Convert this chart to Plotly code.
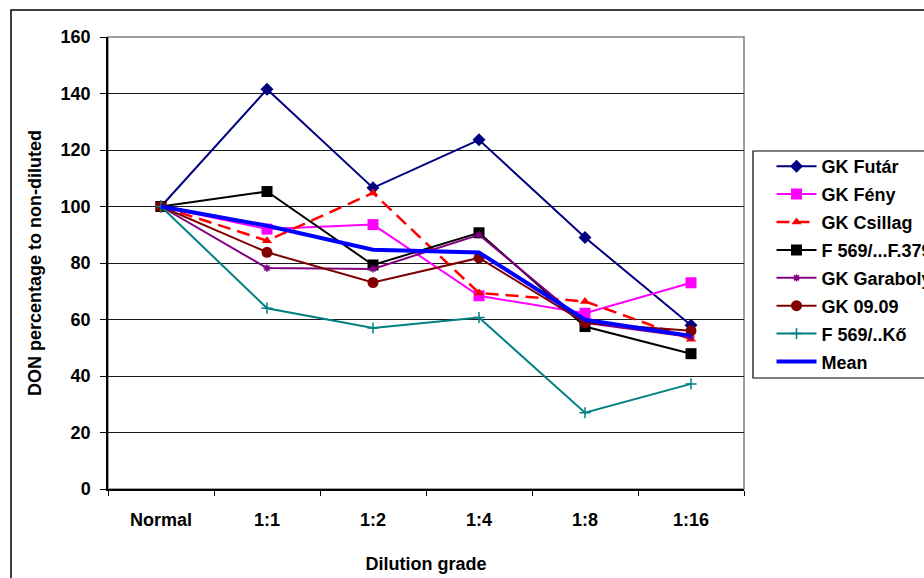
import plotly.graph_objects as go

categories = ["Normal", "1:1", "1:2", "1:4", "1:8", "1:16"]

gk_futar = [100, 141.5, 106.6, 123.6, 89.0, 58.0]
gk_feny = [100, 92.0, 93.6, 68.4, 62.2, 73.0]
gk_csillag = [100, 87.9, 104.8, 69.4, 66.4, 53.0]
f569_f379 = [100, 105.3, 79.3, 90.7, 57.5, 47.9]
gk_garaboly = [100, 78.2, 77.9, 90.0, 58.8, 53.8]
gk_0909 = [100, 83.8, 73.1, 81.8, 58.8, 56.0]
f569_ko = [100, 64.0, 57.0, 60.7, 27.0, 37.2]
mean = [100, 93.2, 84.7, 83.7, 59.9, 54.2]

y_ticks = [0, 20, 40, 60, 80, 100, 120, 140, 160]

FONT = "Liberation Sans, Arial, sans-serif"
FS = 18

series = [
    dict(name="GK Futár", y=gk_futar, color="#000080", width=2, dash="solid",
         symbol="diamond", size=10),
    dict(name="GK Fény", y=gk_feny, color="#FF00FF", width=2, dash="solid",
         symbol="square", size=11),
    dict(name="GK Csillag", y=gk_csillag, color="#FF0000", width=2.5, dash="13px,7px",
         symbol="triangle-up", size=9),
    dict(name="F 569/...F.379", y=f569_f379, color="#000000", width=2, dash="solid",
         symbol="square", size=11),
    dict(name="GK Garaboly", y=gk_garaboly, color="#800080", width=2, dash="solid",
         symbol="asterisk-open", size=6),
    dict(name="GK 09.09", y=gk_0909, color="#800000", width=2, dash="solid",
         symbol="circle", size=11),
    dict(name="F 569/..Kő", y=f569_ko, color="#008080", width=2, dash="solid",
         symbol="cross-thin-open", size=8),
    dict(name="Mean", y=mean, color="#0000FF", width=4, dash="solid",
         symbol=None, size=0),
]

fig = go.Figure()
for s in series:
    if s["symbol"]:
        mode = "lines+markers"
        marker = dict(symbol=s["symbol"], size=s["size"], color=s["color"],
                      line=dict(color=s["color"], width=1.5 if "open" in s["symbol"] else 0))
    else:
        mode = "lines"
        marker = None
    fig.add_trace(go.Scatter(
        x=categories, y=s["y"], name=f"<b>{s['name']}</b>", mode=mode,
        line=dict(color=s["color"], width=s["width"], dash=s["dash"]),
        marker=marker, legendgroup=s["name"],
    ))

W, H = 924, 578
L, R, T, B = 108, 744, 37, 489
pw, ph = R - L, B - T

def px(x):
    return (x - L) / pw

def py(y):
    return (B - y) / ph

shapes = [
    # outer chart frame
    dict(type="rect", xref="paper", yref="paper", x0=px(11), x1=px(940),
         y0=py(595), y1=py(10), line=dict(color="#000000", width=1.5), layer="below"),
    # plot area border (grey)
    dict(type="rect", xref="paper", yref="paper", x0=0, x1=1, y0=0, y1=1,
         line=dict(color="#808080", width=1.5), layer="below"),
    # legend box
    dict(type="rect", xref="paper", yref="paper", x0=px(753), x1=px(960),
         y0=py(378), y1=py(151), line=dict(color="#000000", width=1.2)),
]

fig.update_layout(
    width=W, height=H,
    margin=dict(l=L, r=W - R, t=T, b=H - B, autoexpand=False),
    paper_bgcolor="white", plot_bgcolor="white",
    font=dict(family=FONT, size=FS, color="#000000"),
    showlegend=True,
    legend=dict(
        x=px(771.5), xanchor="left", y=py(148), yanchor="top",
        bgcolor="rgba(0,0,0,0)", borderwidth=0,
        font=dict(family=FONT, size=FS, color="#000000"),
        itemwidth=40, tracegroupgap=1.5,
    ),
    shapes=shapes,
)

fig.update_xaxes(
    type="category", categoryorder="array", categoryarray=categories,
    range=[-0.5, len(categories) - 0.5],
    tickvals=categories, ticktext=[f"<b>{c}</b>" for c in categories],
    showline=True, linecolor="#000000", linewidth=1.5,
    ticks="outside", ticklen=5, tickcolor="#000000", tickwidth=1,
    tickson="boundaries", showgrid=False, zeroline=False,
    tickfont=dict(family=FONT, size=FS, color="#000000"),
    ticklabelstandoff=14,
    title=dict(text="<b>Dilution grade</b>", standoff=28,
               font=dict(family=FONT, size=FS, color="#000000")),
)
fig.update_yaxes(
    range=[0, 160], tickvals=y_ticks, ticktext=[f"<b>{v}</b>" for v in y_ticks],
    showline=True, linecolor="#000000", linewidth=1.5,
    ticks="outside", ticklen=6, tickcolor="#000000", tickwidth=1,
    showgrid=True, gridcolor="#1a1a1a", gridwidth=1, zeroline=False,
    tickfont=dict(family=FONT, size=FS, color="#000000"),
    ticklabelstandoff=6,
    title=dict(text="<b>DON percentage to non-diluted</b>", standoff=14,
               font=dict(family=FONT, size=FS, color="#000000")),
)

fig.write_html("out.html")
